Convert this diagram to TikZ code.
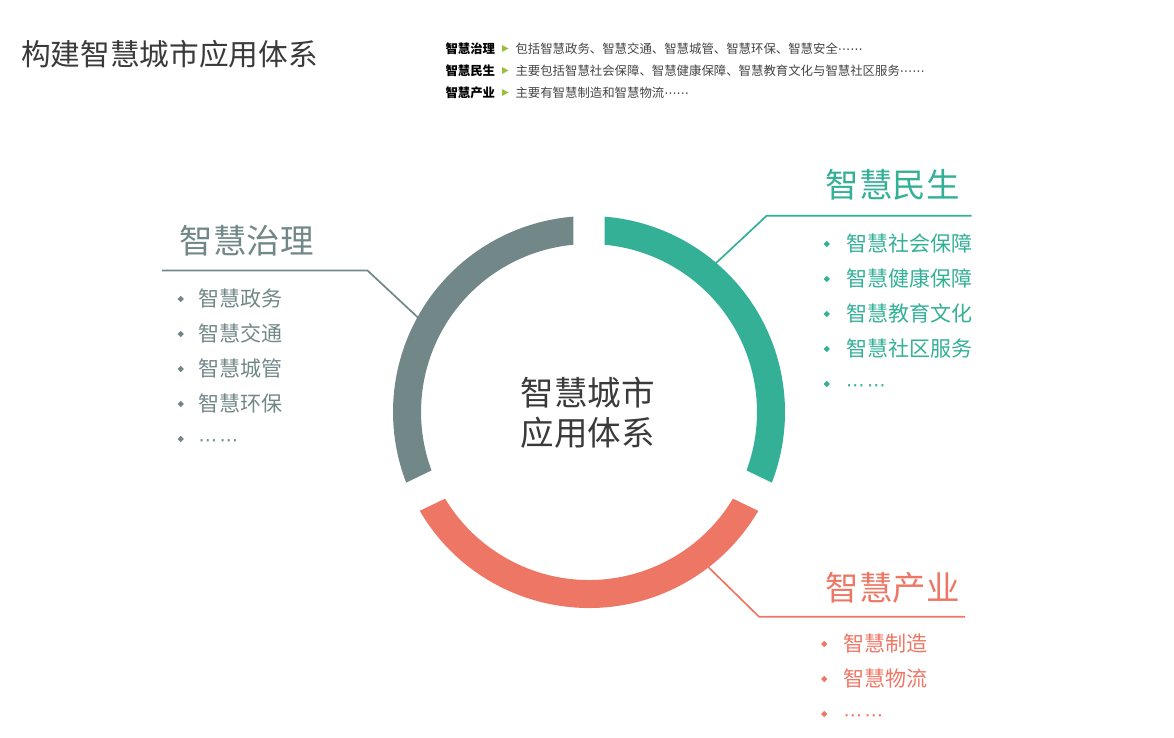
\documentclass[tikz,border=0pt]{standalone}
\usepackage{fontspec}
\setmainfont{Noto Sans CJK SC}
\newfontfamily\dejavu{DejaVu Sans}
\usetikzlibrary{calc,shapes.geometric}
\definecolor{cgray}{HTML}{728788}
\definecolor{cgreen}{HTML}{33B096}
\definecolor{cred}{HTML}{EE7664}
\definecolor{ctitle}{HTML}{3A3A3A}
\definecolor{cdesc}{HTML}{444444}
\definecolor{ctri}{HTML}{9DBE3C}
\newcommand\myellip{{\dejavu ⋯⋯}}
\newcommand\itemellip{{\dejavu\fontsize{18.5}{22}\selectfont ⋯\kern2.5pt⋯}}
\begin{document}
\begin{tikzpicture}[x=1pt,y=1pt,
  txt/.style={inner sep=0pt, outer sep=0pt, anchor=base west},
  titletxt/.style={txt, text=ctitle, font=\fontsize{29.7}{34}\selectfont},
  lab/.style={txt, text=black, font=\fontsize{12.4}{14}\selectfont\bfseries},
  desc/.style={txt, text=cdesc, font=\fontsize{12.4}{14}\selectfont},
  head/.style={txt, font=\fontsize{33.5}{40}\selectfont},
  centertxt/.style={inner sep=0pt, outer sep=0pt, anchor=base, text=ctitle, font=\fontsize{33.5}{40}\selectfont},
  item/.style={txt, font=\fontsize{21}{25}\selectfont},
  bul/.style={diamond, fill, inner sep=0pt, minimum size=6.5pt},
  conn/.style={line width=1.7pt},
  tri/.style={fill=ctri},
  ]
\useasboundingbox (0,0) rectangle (1174,-738);

% title
\node[titletxt] (title) at (21,-65.4) {构建智慧城市应用体系};

% top-right legend
\node[lab] (l1) at (445.5,-53.2) {智慧治理};
\node[lab] (l2) at (445.5,-75.2) {智慧民生};
\node[lab] (l3) at (445.5,-97.2) {智慧产业};
\foreach \y in {48.5,70.5,92.5}{
  \fill[tri] (502,-\y+3.5) -- (508.5,-\y) -- (502,-\y-3.5) -- cycle;
}
\node[desc] (d1) at (515.5,-53.2) {包括智慧政务、智慧交通、智慧城管、智慧环保、智慧安全\myellip};
\node[desc] (d2) at (515.5,-75.2) {主要包括智慧社会保障、智慧健康保障、智慧教育文化与智慧社区服务\myellip};
\node[desc] (d3) at (515.5,-97.2) {主要有智慧制造和智慧物流\myellip};

% ring
\coordinate (O) at (589,-412);

% connectors
\coordinate (gE) at ($(O)+(151.2:194)$);
\coordinate (gK) at (367.5,-270.5);
\coordinate (gL) at (162,-270.5);
\draw[conn,cgray] (gE) -- (gK) -- (gL);
\coordinate (nE) at ($(O)+(49.6:194)$);
\coordinate (nK) at (766.7,-215.7);
\coordinate (nL) at (971.7,-215.7);
\draw[conn,cgreen] (nE) -- (nK) -- (nL);
\coordinate (rE) at ($(O)+(-52.5:194)$);
\coordinate (rK) at (759,-616.7);
\coordinate (rL) at (965,-616.7);
\draw[conn,cred] (rE) -- (rK) -- (rL);

\fill[cgray] ($(O)+(94.58:196)$) arc[start angle=94.58,end angle=201.12,radius=196]
  -- ($(O)+(200.35:168)$) arc[start angle=200.35,end angle=95.35,radius=168] -- cycle;
\fill[cgreen] ($(O)+(-21.12:196)$) arc[start angle=-21.12,end angle=85.42,radius=196]
  -- ($(O)+(84.65:168)$) arc[start angle=84.65,end angle=-20.35,radius=168] -- cycle;
\fill[cred] ($(O)+(210.28:196)$) arc[start angle=210.28,end angle=329.72,radius=196]
  -- ($(O)+(328.95:168)$) arc[start angle=328.95,end angle=211.05,radius=168] -- cycle;

% centre text
\node[centertxt] (c1) at (587.5,-405.2) {智慧城市};
\node[centertxt] (c2) at (587.5,-445.7) {应用体系};

% headings
\node[head, text=cgray] (hG) at (179.5,-253.7) {智慧治理};
\node[head, text=cgreen, anchor=base east] (hN) at (959.5,-197.7) {智慧民生};
\node[head, text=cred, anchor=base east] (hR) at (959.5,-600.7) {智慧产业};

% items
\foreach \t [count=\i] in {智慧政务,智慧交通,智慧城管,智慧环保,\itemellip}{
  \node[item, text=cgray] (gi\i) at (198.5,{-306-35*(\i-1)}) {\t};
  \node[bul, cgray] (gb\i) at (180.7,{-299-35*(\i-1)}) {};
}
\foreach \t [count=\i] in {智慧社会保障,智慧健康保障,智慧教育文化,智慧社区服务,\itemellip}{
  \node[item, text=cgreen] (ni\i) at (846,{-251-35*(\i-1)}) {\t};
  \node[bul, cgreen] (nb\i) at (826.7,{-244-35*(\i-1)}) {};
}
\foreach \t [count=\i] in {智慧制造,智慧物流,\itemellip}{
  \node[item, text=cred] (ri\i) at (843.5,{-651-35*(\i-1)}) {\t};
  \node[bul, cred] (rb\i) at (824.3,{-644-35*(\i-1)}) {};
}
\end{tikzpicture}
\end{document}
